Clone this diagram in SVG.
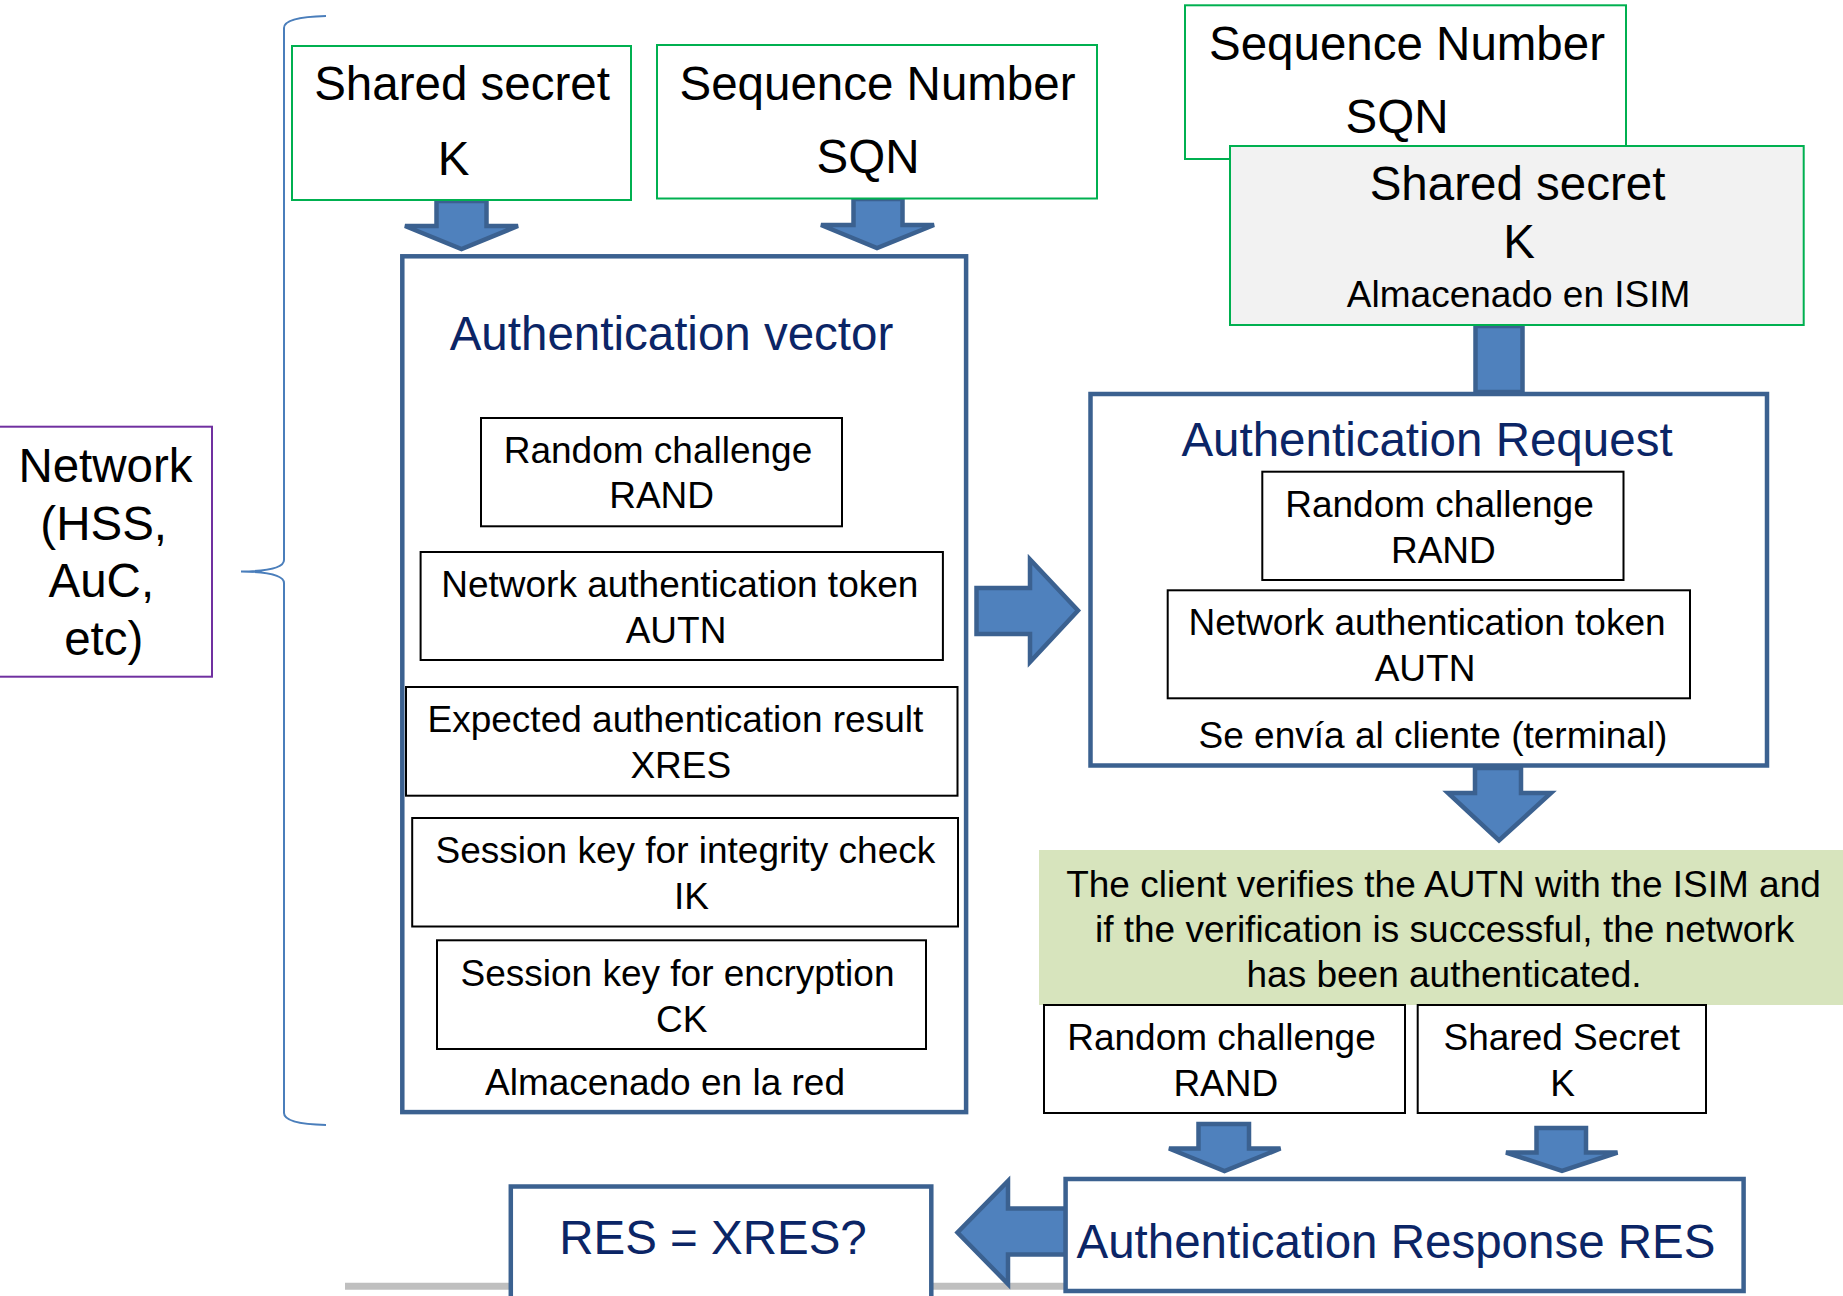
<svg xmlns="http://www.w3.org/2000/svg" width="1843" height="1296" viewBox="0 0 1843 1296">
  <style>
    text { font-family: "Liberation Sans", Arial, sans-serif; fill: #000; text-anchor: middle; }
    .big { font-size: 47.5px; }
    .sm { font-size: 37px; }
    .navy { fill: #0b2566; }
    .gbox { fill: #fff; stroke: #00b050; stroke-width: 2; }
    .kbox { fill: #fff; stroke: #000; stroke-width: 2; }
    .bbox { fill: #fff; stroke: #3b6190; stroke-width: 4.5; }
    .arrow { fill: #4f81bd; stroke: #3b6190; stroke-width: 4.5; stroke-linejoin: miter; }
  </style>

  <!-- baseline rule at the bottom -->
  <line x1="345" y1="1286.3" x2="1066" y2="1286.3" stroke="#bfbfbf" stroke-width="7"/>

  <!-- connectors: brace and block arrows -->
  <g id="connectors">
    <path d="M326,16 Q284,17 284,28 L284,560 Q284,571 241,571.5 Q284,572 284,583 L284,1113 Q284,1124 326,1125" fill="none" stroke="#4a7ebb" stroke-width="2"/>
    <path class="arrow" d="M436.5,201 L486.5,201 L486.5,226 L518,226 L461.5,249 L405,226 L436.5,226 Z"/>
    <path class="arrow" d="M853.5,199 L902.5,199 L902.5,225 L934,225 L877,248 L821,225 L853.5,225 Z"/>
    <rect class="arrow" x="1475.5" y="326" width="47" height="66"/>
    <path class="arrow" d="M976.5,588 L1030,588 L1030,559.5 L1078,610.5 L1030,662 L1030,634 L976.5,634 Z"/>
    <path class="arrow" d="M1475,768 L1521,768 L1521,793 L1551,793 L1499,840.5 L1448,793 L1475,793 Z"/>
    <path class="arrow" d="M1198.5,1124 L1249,1124 L1249,1148.5 L1280.5,1148.5 L1224.5,1171 L1169,1148.5 L1198.5,1148.5 Z"/>
    <path class="arrow" d="M1536.5,1128 L1586,1128 L1586,1152.5 L1617.5,1152.5 L1562,1171 L1506,1152.5 L1536.5,1152.5 Z"/>
    <path class="arrow" d="M1066,1208.5 L1008,1208.5 L1008,1181 L957.5,1232.5 L1008,1284 L1008,1254.5 L1066,1254.5 Z"/>
  </g>

  <g id="network">
    <rect x="-5" y="426.7" width="217" height="250" fill="#fff" stroke="#7030a0" stroke-width="2"/>
    <text class="big" x="105.5" y="482">Network</text>
    <text class="big" x="103.7" y="540">(HSS,</text>
    <text class="big" x="101.3" y="597">AuC,</text>
    <text class="big" x="103.8" y="655">etc)</text>
  </g>

  <g id="shared-secret-net">
    <rect class="gbox" x="292" y="46" width="339" height="154"/>
    <text class="big" x="462" y="100">Shared secret</text>
    <text class="big" x="453.5" y="175">K</text>
  </g>

  <g id="sqn-net">
    <rect class="gbox" x="657" y="45" width="440" height="153.5"/>
    <text class="big" x="877.5" y="100">Sequence Number</text>
    <text class="big" x="868" y="173.3">SQN</text>
  </g>

  <g id="sqn-isim">
    <rect class="gbox" x="1185" y="5.3" width="441" height="153.7"/>
    <text class="big" x="1407" y="60">Sequence Number</text>
    <text class="big" x="1397" y="133.3">SQN</text>
  </g>

  <g id="shared-secret-isim">
    <rect x="1230" y="146" width="573.7" height="179" fill="#f2f2f2" stroke="#00b050" stroke-width="2"/>
    <text class="big" x="1517.5" y="200">Shared secret</text>
    <text class="big" x="1519" y="258.3">K</text>
    <text class="sm" x="1518.6" y="306.7">Almacenado en ISIM</text>
  </g>

  <g id="auth-vector">
    <rect class="bbox" x="402.3" y="256.3" width="563.8" height="855.8"/>
    <text class="big navy" x="671.5" y="350">Authentication vector</text>
    <rect class="kbox" x="481" y="418" width="361" height="108.3"/>
    <text class="sm" x="658" y="463.3">Random challenge</text>
    <text class="sm" x="661.6" y="508.3">RAND</text>
    <rect class="kbox" x="420.6" y="552" width="522.3" height="108"/>
    <text class="sm" x="679.8" y="596.7">Network authentication token</text>
    <text class="sm" x="676" y="642.7">AUTN</text>
    <rect class="kbox" x="406" y="687" width="551.5" height="108.7"/>
    <text class="sm" x="675.4" y="731.7">Expected authentication result</text>
    <text class="sm" x="680.8" y="778.3">XRES</text>
    <rect class="kbox" x="412.2" y="818" width="545.8" height="108.5"/>
    <text class="sm" x="685.4" y="862.7">Session key for integrity check</text>
    <text class="sm" x="691.4" y="909.3">IK</text>
    <rect class="kbox" x="437" y="940.3" width="489" height="108.7"/>
    <text class="sm" x="677.5" y="985.7">Session key for encryption</text>
    <text class="sm" x="681.8" y="1032.3">CK</text>
    <text class="sm" x="665" y="1095">Almacenado en la red</text>
  </g>

  <g id="auth-request">
    <rect class="bbox" x="1090.5" y="394" width="676.5" height="371.5"/>
    <text class="big navy" x="1427" y="456">Authentication Request</text>
    <rect class="kbox" x="1262.3" y="471.7" width="361.2" height="108.3"/>
    <text class="sm" x="1439.5" y="516.7">Random challenge</text>
    <text class="sm" x="1443.4" y="562.7">RAND</text>
    <rect class="kbox" x="1167.7" y="590.3" width="522.3" height="108"/>
    <text class="sm" x="1427" y="635">Network authentication token</text>
    <text class="sm" x="1425" y="681">AUTN</text>
    <text class="sm" x="1433" y="748.3">Se envía al cliente (terminal)</text>
  </g>

  <g id="verification-note">
    <rect x="1039" y="850" width="810" height="155" fill="#d7e4bd"/>
    <text class="sm" x="1443.5" y="896.7">The client verifies the AUTN with the ISIM and</text>
    <text class="sm" x="1444.6" y="941.7">if the verification is successful, the network</text>
    <text class="sm" x="1444" y="986.7">has been authenticated.</text>
  </g>

  <g id="rand-client">
    <rect class="kbox" x="1044" y="1005" width="361" height="108"/>
    <text class="sm" x="1221.5" y="1050">Random challenge</text>
    <text class="sm" x="1225.8" y="1096">RAND</text>
  </g>

  <g id="secret-client">
    <rect class="kbox" x="1417.7" y="1005" width="288.3" height="108"/>
    <text class="sm" x="1561.8" y="1050">Shared Secret</text>
    <text class="sm" x="1562.6" y="1096">K</text>
  </g>

  <g id="auth-response">
    <rect class="bbox" x="1065.6" y="1179" width="678" height="112"/>
    <text class="big navy" x="1396" y="1258.3">Authentication Response RES</text>
  </g>

  <g id="res-check">
    <rect class="bbox" x="510.8" y="1186.5" width="420.5" height="130"/>
    <text class="big navy" x="713" y="1254">RES = XRES?</text>
  </g>
</svg>
